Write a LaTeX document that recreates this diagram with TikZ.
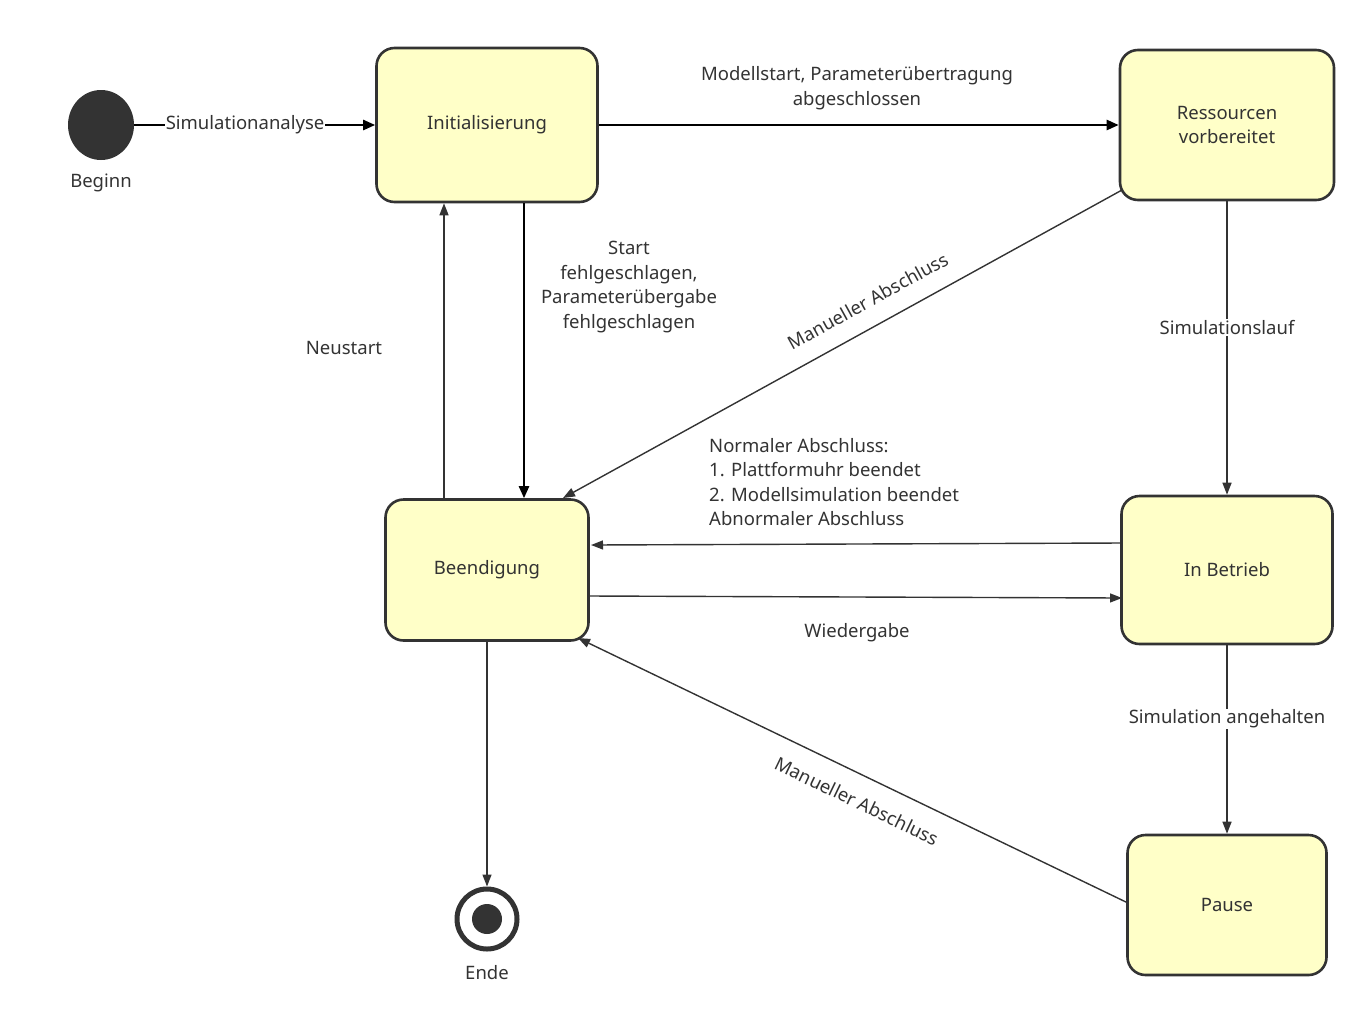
\documentclass[tikz,border=0pt]{standalone}
\usepackage{fontspec}
\setmainfont{Noto Sans}
\usetikzlibrary{arrows.meta,shapes.geometric}
\definecolor{ink}{HTML}{333333}
\definecolor{stfill}{HTML}{FFFFC8}
\begin{document}
\begin{tikzpicture}[x=1bp,y=-1bp,
  every node/.style={font=\fontsize{18.5bp}{24.5bp}\selectfont, text=ink},
  state/.style={draw=ink, line width=2.6bp, fill=stfill, rounded corners=18bp, inner sep=0pt, align=center},
  arr/.style={draw=ink, line width=1.4bp, -{Triangle[length=12bp,width=9bp]}},
  tarr/.style={draw=black, line width=2.4bp, -{Triangle[length=12bp,width=10bp]}},
  lbl/.style={fill=white, inner sep=1bp, align=center}]
\useasboundingbox (0,0) rectangle (1371,1033);
\node[state, minimum width=221bp, minimum height=154bp] (init) at (487,125) {Initialisierung};
\node[state, minimum width=214bp, minimum height=150bp] (res) at (1227,125) {Ressourcen\\vorbereitet};
\node[state, minimum width=203bp, minimum height=141bp] (end) at (487,570) {Beendigung};
\node[state, minimum width=211bp, minimum height=148bp] (run) at (1227,570) {In Betrieb};
\node[state, minimum width=199bp, minimum height=140bp] (pause) at (1227,905) {Pause};
\node[fill=ink, ellipse, minimum width=66bp, minimum height=70bp, inner sep=0pt] (start) at (101,125) {};
\node (beginn) at (101,183) {Beginn};
\node[circle, draw=ink, line width=5bp, fill=white, minimum size=60bp, inner sep=0pt] (fin) at (487,919) {};
\node[circle, fill=ink, minimum size=30bp, inner sep=0pt] (finin) at (487,919) {};
\node (ende) at (487,973) {Ende};

\draw[tarr] (start.east) -- (init.west) node[lbl, pos=0.46] {Simulationanalyse};
\draw[tarr] (init.east) -- (res.west);
\node[align=center] (l1) at (857,88) {Modellstart, Parameterübertragung\\abgeschlossen};
\draw[tarr] (init.south -| 524,0) -- (end.north -| 524,0);
\node[align=center] (l2) at (629,287) {Start\\fehlgeschlagen,\\Parameterübergabe\\fehlgeschlagen};
\draw[arr] (end.north -| 444,0) -- (init.south -| 444,0);
\node (l3) at (344,348) {Neustart};
\coordinate (a1) at (1122,190);
\coordinate (a2) at (563,498);
\draw[arr] (a1) -- (a2);
\node[rotate=28.9] (l4) at (868,301) {Manueller Abschluss};
\draw[arr] (res.south) -- (run.north) node[lbl, pos=0.43] {Simulationslauf};
\coordinate (b1) at (1122,543);
\coordinate (b2) at (591,545);
\draw[arr] (b1) -- (b2);
\node[align=left, anchor=north west, inner sep=0pt] (l5) at (709,438) {Normaler Abschluss:\\1. Plattformuhr beendet\\2. Modellsimulation beendet\\Abnormaler Abschluss};
\coordinate (c1) at (589,596);
\coordinate (c2) at (1122,598);
\draw[arr] (c1) -- (c2);
\node (l6) at (857,633) {Wiedergabe};
\draw[arr] (run.south) -- (pause.north) node[lbl, pos=0.39] {Simulation angehalten};
\coordinate (d1) at (1128,903);
\coordinate (d2) at (578,638);
\draw[arr] (d1) -- (d2);
\node[rotate=-25.7] (l7) at (857,801) {Manueller Abschluss};
\draw[arr] (end.south) -- (fin.north);
\end{tikzpicture}
\end{document}
